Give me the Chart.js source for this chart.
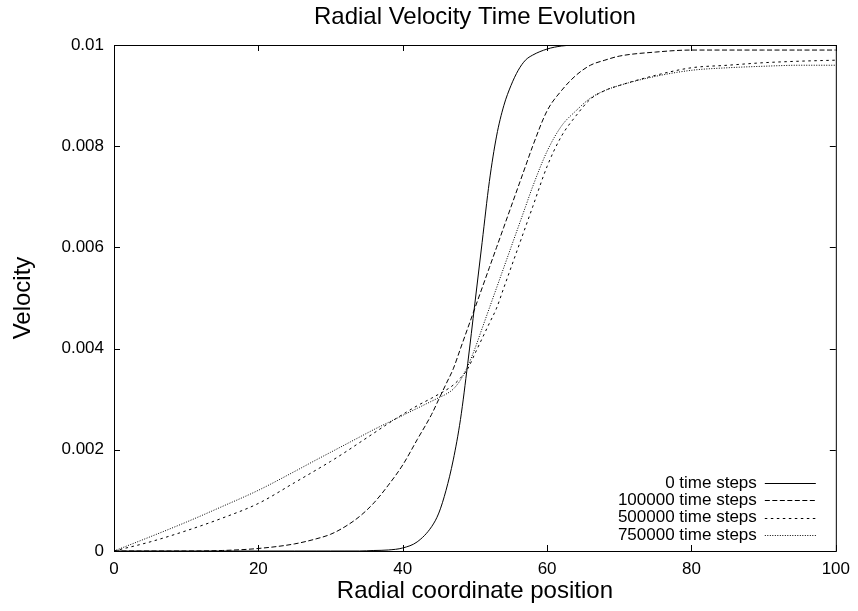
<!DOCTYPE html>
<html>
<head>
<meta charset="utf-8">
<script src="https://cdn.jsdelivr.net/npm/chart.js@4.4.1/dist/chart.umd.min.js"></script>
<style>
  html, body { margin: 0; padding: 0; background: #fff; }
</style>
</head>
<body>
<canvas id="velocityChart" width="858" height="611"></canvas>
<script>
// radial coordinate (x) shared by all series
const radius = [0, 5, 10, 15, 20, 25, 28, 30, 32, 34, 36, 38, 40, 42, 44, 45, 46, 47, 48, 49,
  50, 51, 52, 53, 54, 55, 56, 57, 58, 60, 62, 64, 66, 68, 70, 75, 80, 85, 90, 95, 100];

const steps0 = [0, 0, 0, 0, 0, 0, 0, 0, 0, 0, 0.00001, 0.00002, 0.00006, 0.00018, 0.00048, 0.00075, 0.0012, 0.0018, 0.0026, 0.0037,
  0.0049, 0.0061, 0.0073, 0.0082, 0.0088, 0.0092, 0.0095, 0.0097, 0.0098, 0.00992, 0.00998, 0.01, 0.01, 0.01, 0.01, 0.01, 0.01, 0.01, 0.01, 0.01, 0.01];

const steps100k = [0, 0, 0, 0.00001, 0.00005, 0.00014, 0.00024, 0.00033, 0.00048, 0.00068, 0.00095, 0.0013, 0.0017, 0.0022, 0.0027, 0.003, 0.0033, 0.0036, 0.004, 0.0044,
  0.0048, 0.0052, 0.0056, 0.006, 0.0064, 0.0068, 0.0072, 0.0076, 0.008, 0.0087, 0.0091, 0.0094, 0.0096, 0.0097, 0.00978, 0.00986, 0.0099, 0.0099, 0.0099, 0.0099, 0.0099];

const steps500k = [0, 0.00018, 0.0004, 0.00065, 0.00094, 0.00135, 0.0016, 0.00177, 0.00195, 0.00214, 0.00233, 0.00252, 0.0027, 0.00287, 0.00302, 0.0031, 0.00318, 0.00328, 0.00342, 0.0036,
  0.0039, 0.0042, 0.0045, 0.0048, 0.0052, 0.0056, 0.006, 0.0064, 0.0068, 0.0076, 0.0082, 0.0086, 0.00893, 0.0091, 0.0092, 0.0094, 0.00955, 0.0096, 0.00965, 0.00968, 0.0097];

const steps750k = [0, 0.00028, 0.00057, 0.00088, 0.0012, 0.00157, 0.0018, 0.00195, 0.0021, 0.00225, 0.0024, 0.00254, 0.00268, 0.00282, 0.00296, 0.00303, 0.0031, 0.0032, 0.00338, 0.00365,
  0.004, 0.0044, 0.0048, 0.0052, 0.0056, 0.006, 0.0064, 0.0068, 0.0072, 0.0079, 0.0084, 0.0087, 0.00895, 0.0091, 0.0092, 0.00938, 0.0095, 0.00955, 0.00958, 0.0096, 0.0096];

const seriesLabels = ["0 time steps", "100000 time steps", "500000 time steps", "750000 time steps"];
const seriesValues = [steps0, steps100k, steps500k, steps750k];
const seriesDash = [[], [5, 2.5], [2.5, 3.5], [1, 1.5]];

const xTicks = [0, 20, 40, 60, 80, 100];
const yTicks = [0, 0.002, 0.004, 0.006, 0.008, 0.01];

const FONT = "'Liberation Sans', Arial, Helvetica, sans-serif";

// gnuplot style box, inward ticks and legend inside the plot
const gnuplotFrame = {
  id: "gnuplotFrame",
  afterDatasetsDraw(chart) {
    const { ctx, chartArea: a, scales: { x, y } } = chart;
    const tick = 6;
    ctx.save();
    ctx.strokeStyle = "#000";
    ctx.lineWidth = 1;
    ctx.setLineDash([]);
    ctx.strokeRect(a.left + 0.5, a.top + 0.5, a.right - a.left, a.bottom - a.top);

    ctx.beginPath();
    xTicks.forEach(v => {
      const px = Math.round(x.getPixelForValue(v)) + 0.5;
      ctx.moveTo(px, a.bottom); ctx.lineTo(px, a.bottom - tick);
      ctx.moveTo(px, a.top); ctx.lineTo(px, a.top + tick);
    });
    yTicks.forEach(v => {
      const py = Math.round(y.getPixelForValue(v)) + 0.5;
      ctx.moveTo(a.left, py); ctx.lineTo(a.left + tick, py);
      ctx.moveTo(a.right, py); ctx.lineTo(a.right - tick, py);
    });
    ctx.stroke();

    // legend
    const rowH = 17.3;
    const firstRow = a.bottom - 16 - 3 * rowH;
    ctx.font = "17px " + FONT;
    ctx.fillStyle = "#000";
    ctx.textAlign = "right";
    ctx.textBaseline = "middle";
    seriesLabels.forEach((label, i) => {
      const ry = firstRow + i * rowH;
      ctx.fillText(label, a.right - 79, ry);
      ctx.beginPath();
      ctx.setLineDash(seriesDash[i]);
      ctx.moveTo(a.right - 71, Math.round(ry) + 0.5);
      ctx.lineTo(a.right - 20, Math.round(ry) + 0.5);
      ctx.stroke();
    });
    ctx.restore();
  }
};

new Chart(document.getElementById("velocityChart"), {
  type: "line",
  data: {
    labels: radius,
    datasets: seriesValues.map((vals, i) => ({
      label: seriesLabels[i],
      data: vals.map((v, j) => ({ x: radius[j], y: v })),
      borderColor: "#000",
      borderWidth: 1,
      borderDash: seriesDash[i],
      pointRadius: 0,
      fill: false,
      cubicInterpolationMode: "monotone"
    }))
  },
  options: {
    responsive: false,
    animation: false,
    devicePixelRatio: 1,
    layout: { padding: { left: 0, right: 21, top: 0, bottom: 0 } },
    plugins: {
      legend: { display: false },
      tooltip: { enabled: false },
      title: {
        display: true,
        fullSize: false,
        text: "Radial Velocity Time Evolution",
        color: "#000",
        font: { family: FONT, size: 24, weight: "normal" },
        padding: { top: 2.6, bottom: 13.6 }
      }
    },
    scales: {
      x: {
        type: "linear",
        min: 0,
        max: 100,
        afterFit: s => { s.height = 60; },
        afterBuildTicks: s => { s.ticks = xTicks.map(v => ({ value: v })); },
        ticks: { color: "#000", font: { family: FONT, size: 17 }, padding: 8, maxRotation: 0 },
        grid: { display: false, drawTicks: false },
        border: { display: false },
        title: {
          display: true,
          text: "Radial coordinate position",
          color: "#000",
          font: { family: FONT, size: 24 },
          padding: { top: 0, bottom: 5 }
        }
      },
      y: {
        min: 0,
        max: 0.01,
        afterFit: s => { s.width = 114; },
        afterBuildTicks: s => { s.ticks = yTicks.map(v => ({ value: v })); },
        ticks: {
          color: "#000",
          font: { family: FONT, size: 17 },
          padding: 10,
          callback: v => String(+v.toFixed(3))
        },
        grid: { display: false, drawTicks: false },
        border: { display: false },
        title: {
          display: true,
          text: "Velocity",
          color: "#000",
          font: { family: FONT, size: 24 },
          padding: { top: 9, bottom: 0 }
        }
      }
    }
  },
  plugins: [gnuplotFrame]
});
</script>
</body>
</html>
